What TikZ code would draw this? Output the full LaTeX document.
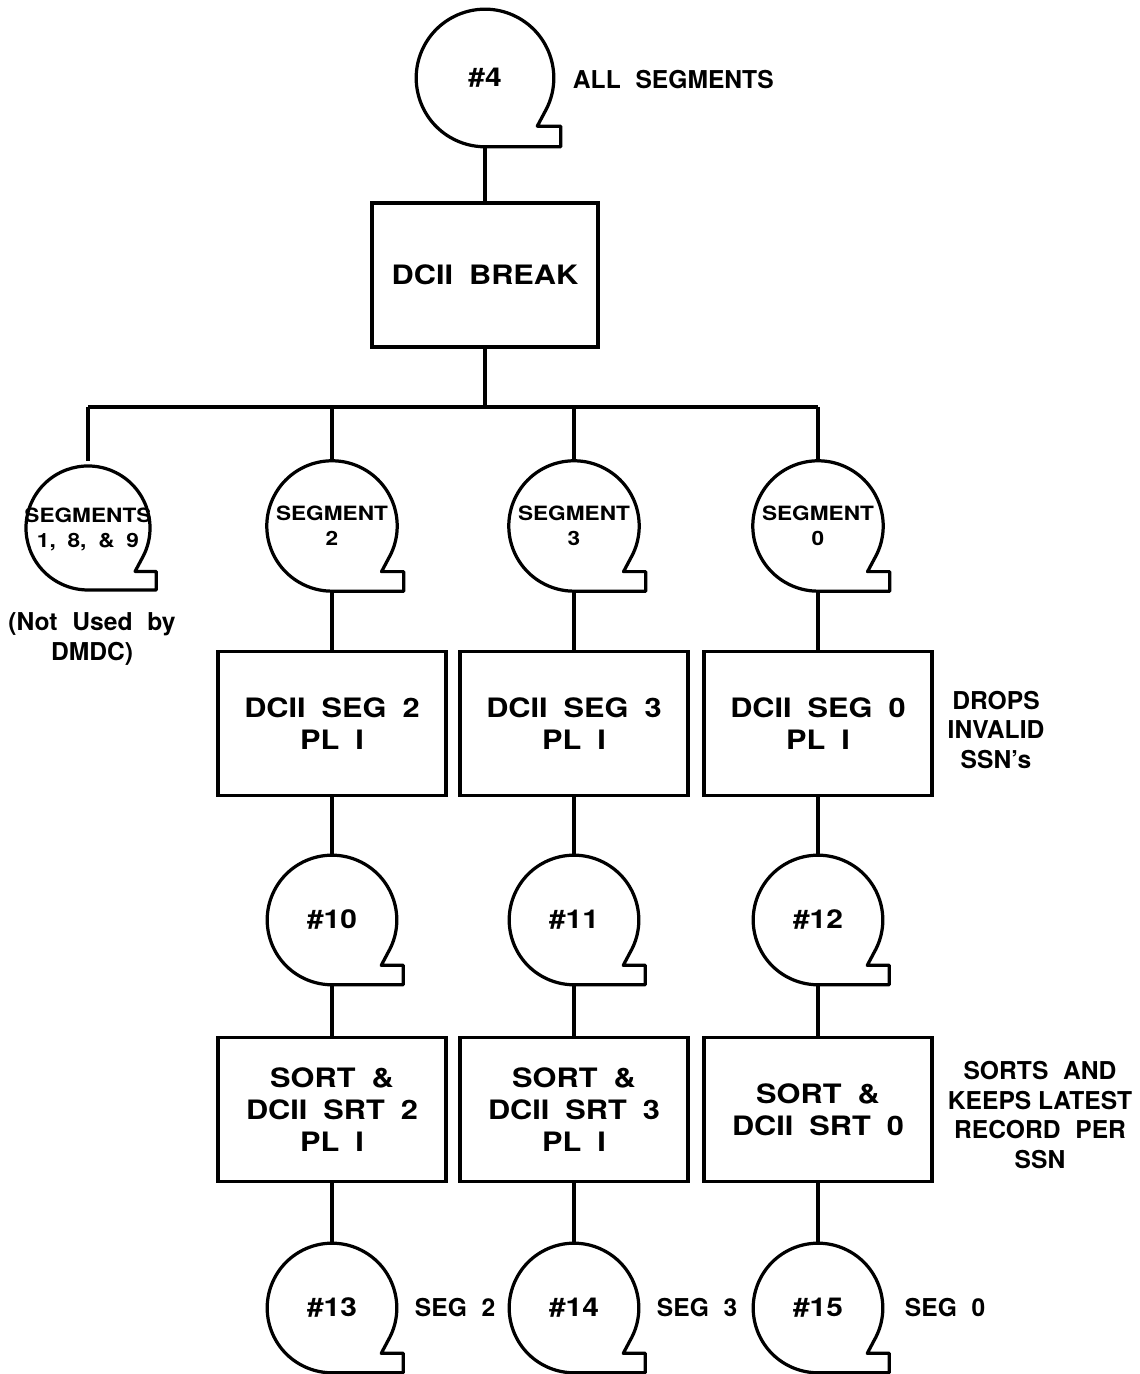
\documentclass[tikz,border=0pt]{standalone}
\usepackage{fontspec}
\setmainfont{TeX Gyre Heros}
\newfontfamily\widesans[FakeStretch=1.15]{TeX Gyre Heros}
\usepackage{tikz}
\usetikzlibrary{calc,positioning}
\newcommand{\bxfont}{\widesans\fontsize{19}{23}\selectfont\bfseries}
\newcommand{\ntfont}{\fontsize{17.5}{21}\selectfont\bfseries}
\newcommand{\tpfont}{\widesans\fontsize{18.5}{21}\selectfont\bfseries}
\newcommand{\sgfont}{\widesans\fontsize{14}{17.5}\selectfont\bfseries}
\newcommand{\gap}{\hspace{0.6em}}
\tikzset{
  link/.style={line width=2.3pt},
  tapeline/.style={line width=2.3pt,line join=round},
  tape/.style={circle,draw=none,inner sep=0pt,align=center},
  procbox/.style={rectangle,draw,line width=2.3pt,align=center,
    minimum width=5.7cm,minimum height=3.6cm,font=\bxfont},
  sidenote/.style={align=center,font=\ntfont}
}
% tape symbol: circle with tab at lower right
\newcommand{\tapeoutline}[2]{%
  \draw[tapeline] ($(#1)+(-30:#2)$)
    arc[start angle=-30,end angle=270,radius=#2]
    -- ($(#1)+({1.1*#2},{-#2})$)
    -- ($(#1)+({1.1*#2},{-0.7*#2})$)
    -- ($(#1)+({0.76*#2},{-0.7*#2})$)
    -- cycle;}

\begin{document}
\begin{tikzpicture}
  \useasboundingbox (0,0) rectangle (28.5,34.35);

  \node[tape,minimum size=3.44cm,font=\tpfont] (t4) at (12.125,32.4) {\#4};
  \tapeoutline{t4}{1.72}
  \node[sidenote,anchor=west] (lall) at (14.2,32.35) {ALL\gap SEGMENTS};

  \node[procbox,minimum width=5.65cm] (brk) at (12.125,27.475) {DCII\gap BREAK};
  \draw[link] (t4.south)--(brk.north);

  \coordinate (bus) at (12.125,24.175);

  \node[tape,minimum size=3.1cm,font=\sgfont,text depth=0pt] (s189) at (2.2,21.15)
    {SEGMENTS\\1,\gap 8,\gap \&\gap 9};
  \node[tape,minimum size=3.26cm,font=\sgfont] (s2) at (8.3,21.2) {SEGMENT\\2};
  \node[tape,minimum size=3.26cm,font=\sgfont] (s3) at (14.35,21.2) {SEGMENT\\3};
  \node[tape,minimum size=3.26cm,font=\sgfont] (s0) at (20.45,21.2) {SEGMENT\\0};
  \tapeoutline{s189}{1.55}
  \foreach \t in {s2,s3,s0}{
    \tapeoutline{\t}{1.63}
  }

  \draw[link] (brk.south)--(bus);
  \draw[link] (s189 |- bus)--(s0 |- bus);
  \foreach \t in {s189,s2,s3,s0}{
    \draw[link] (\t |- bus)--(\t.north);
  }

  \node[sidenote] (lnot) at (2.3,18.375) {(Not\gap Used\gap by\\DMDC)};

  \node[procbox] (p2) at (8.3,16.26) {DCII\gap SEG\gap 2\\PL\gap I};
  \node[procbox] (p3) at (14.35,16.26) {DCII\gap SEG\gap 3\\PL\gap I};
  \node[procbox] (p0) at (20.45,16.26) {DCII\gap SEG\gap 0\\PL\gap I};
  \node[sidenote] (ldrop) at (24.9,16.1) {DROPS\\INVALID\\SSN's};

  \node[tape,minimum size=3.26cm,font=\tpfont] (t10) at (8.3,11.35) {\#10};
  \node[tape,minimum size=3.26cm,font=\tpfont] (t11) at (14.35,11.35) {\#11};
  \node[tape,minimum size=3.26cm,font=\tpfont] (t12) at (20.45,11.35) {\#12};

  \node[procbox] (q2) at (8.3,6.61) {SORT\gap\&\\DCII\gap SRT\gap 2\\PL\gap I};
  \node[procbox] (q3) at (14.35,6.61) {SORT\gap\&\\DCII\gap SRT\gap 3\\PL\gap I};
  \node[procbox] (q0) at (20.45,6.61) {SORT\gap\&\\DCII\gap SRT\gap 0};
  \node[sidenote] (lsort) at (26.0,6.475)
    {SORTS\gap AND\\KEEPS LATEST\\RECORD\gap PER\\SSN};

  \node[tape,minimum size=3.2cm,font=\tpfont] (t13) at (8.3,1.65) {\#13};
  \node[tape,minimum size=3.2cm,font=\tpfont] (t14) at (14.35,1.65) {\#14};
  \node[tape,minimum size=3.2cm,font=\tpfont] (t15) at (20.45,1.65) {\#15};

  \foreach \t in {t10,t11,t12,t13,t14,t15}{
    \tapeoutline{\t}{1.62}
  }

  \node[sidenote,anchor=west] (lseg2) at (10.25,1.65) {SEG\gap 2};
  \node[sidenote,anchor=west] (lseg3) at (16.3,1.65) {SEG\gap 3};
  \node[sidenote,anchor=west] (lseg0) at (22.5,1.65) {SEG\gap 0};

  \foreach \a/\b/\c/\d/\e in {s2/p2/t10/q2/t13,s3/p3/t11/q3/t14,s0/p0/t12/q0/t15}{
    \draw[link] (\a.south)--(\b.north);
    \draw[link] (\b.south)--(\c.north);
    \draw[link] (\c.south)--(\d.north);
    \draw[link] (\d.south)--(\e.north);
  }
\end{tikzpicture}
\end{document}
